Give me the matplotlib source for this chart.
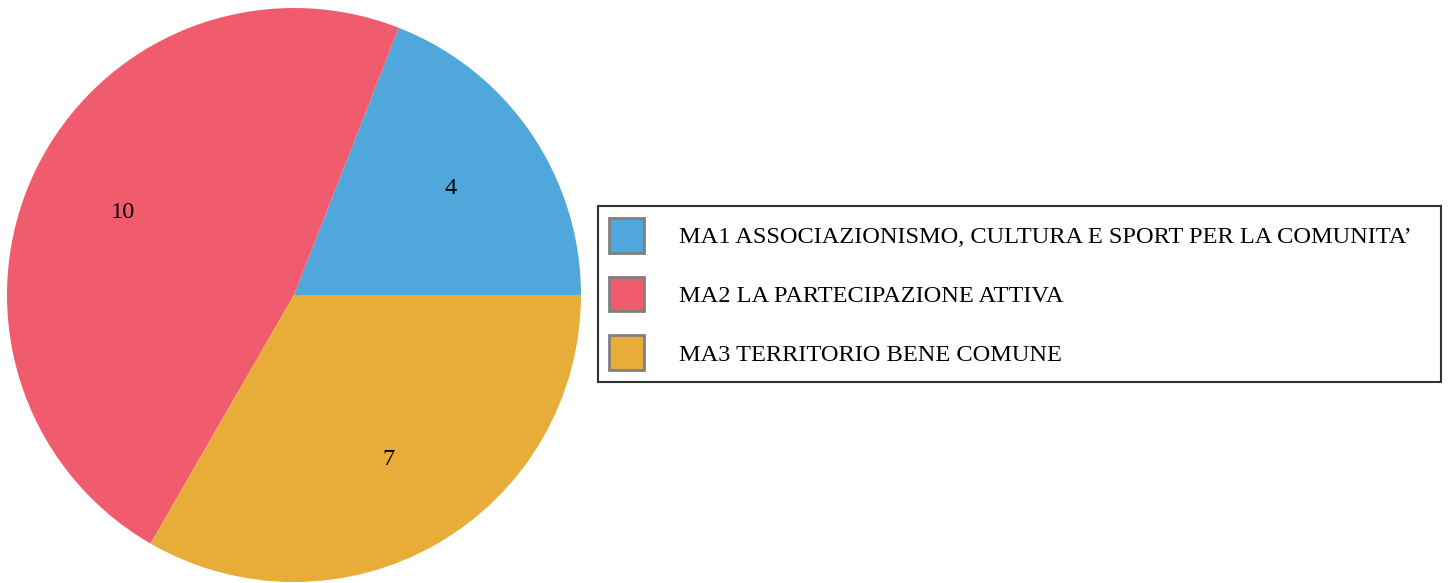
import matplotlib.pyplot as plt
from matplotlib.patches import Patch

plt.rcParams['font.family'] = ['Liberation Serif', 'DejaVu Serif']

# dati
etichette = ["MA1 ASSOCIAZIONISMO, CULTURA E SPORT PER LA COMUNITA\u2019",
             "MA2 LA PARTECIPAZIONE ATTIVA",
             "MA3 TERRITORIO BENE COMUNE"]
valori = [4, 10, 7]
colori = ["#50A7DC", "#F15B6E", "#E8AC39"]

fig = plt.figure(figsize=(14.51, 5.83), dpi=100)
ax = fig.add_axes([7 / 1451, 1 / 583, 574 / 1451, 574 / 583])

ax.pie(valori, colors=colori, startangle=0, counterclock=True,
       autopct=lambda p: "%d" % round(p * sum(valori) / 100),
       pctdistance=0.66, textprops={'fontsize': 17.6, 'color': 'black'},
       wedgeprops={'linewidth': 0})
ax.set_xlim(-1, 1)
ax.set_ylim(-1, 1)
ax.set_aspect('equal')

# legenda (larghezza fissa come nell'originale)
maniglie = [Patch(facecolor=c, edgecolor='#808080', linewidth=2) for c in colori]
leg = fig.legend(maniglie, etichette, loc='center left', mode='expand',
                 bbox_to_anchor=(598 / 1451, 1 - 294 / 583, (1441 - 598) / 1451, 0),
                 fontsize=17.6, frameon=True, fancybox=False,
                 handlelength=1.42, handleheight=1.81, handletextpad=1.42,
                 labelspacing=0.98, borderpad=0.47, borderaxespad=0)
leg.get_frame().set_edgecolor('black')
leg.get_frame().set_linewidth(1.5)

fig.savefig("out.png", dpi=100)
